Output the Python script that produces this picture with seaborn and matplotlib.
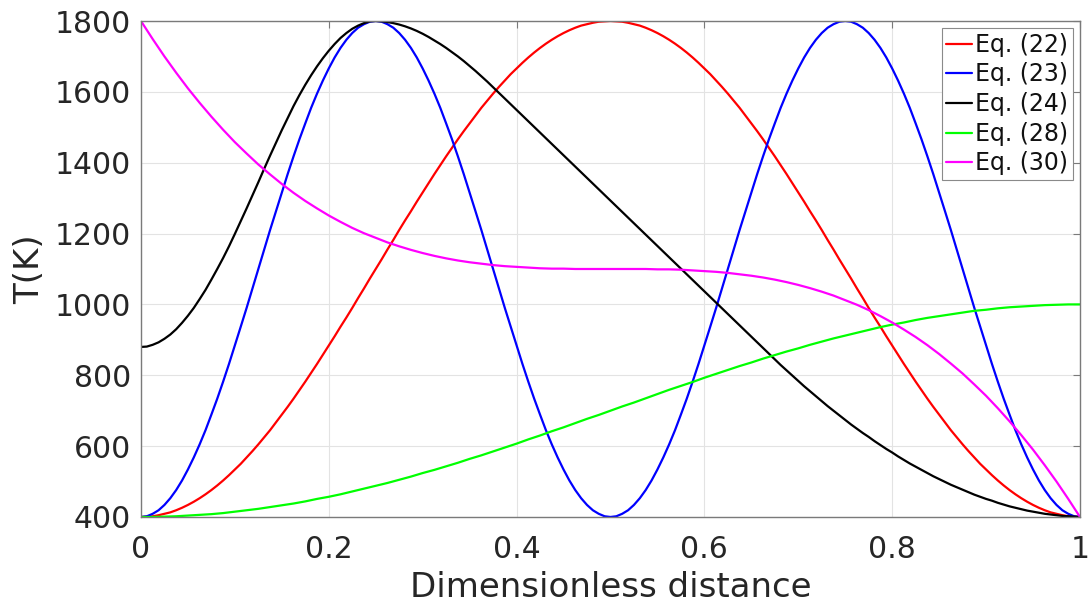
import numpy as np
import pandas as pd
import matplotlib
matplotlib.use("Agg")
import matplotlib.pyplot as plt
import seaborn as sns

# Dimensionless distance samples: a fine grid for the strongly curved profiles,
# a coarser one for the smooth profiles
distance_fine = np.linspace(0.0, 1.0, 161)
distance = np.linspace(0.0, 1.0, 81)

# Temperature profiles T(K)
eq22_T = [400, 401, 402, 405, 409, 413, 419, 426, 434, 443, 453, 464, 476, 489, 503, 518, 534, 550, 568, 586,
          605, 625, 645, 667, 689, 711, 734, 758, 782, 807, 832, 858, 884, 910, 937, 963, 990, 1018, 1045, 1073,
          1100,
          1127, 1155, 1182, 1210, 1237, 1263, 1290, 1316, 1342, 1368, 1393, 1418, 1442, 1466, 1489, 1511, 1533,
          1555, 1575, 1595, 1614, 1632, 1650, 1666, 1682, 1697, 1711, 1724, 1736, 1747, 1757, 1766, 1774, 1781,
          1787, 1791, 1795, 1798, 1799, 1800,
          1799, 1798, 1795, 1791, 1787, 1781, 1774, 1766, 1757, 1747, 1736, 1724, 1711, 1697, 1682, 1666, 1650,
          1632, 1614, 1595, 1575, 1555, 1533, 1511, 1489, 1466, 1442, 1418, 1393, 1368, 1342, 1316, 1290, 1263,
          1237, 1210, 1182, 1155, 1127, 1100,
          1073, 1045, 1018, 990, 963, 937, 910, 884, 858, 832, 807, 782, 758, 734, 711, 689, 667, 645, 625, 605,
          586, 568, 550, 534, 518, 503, 489, 476, 464, 453, 443, 434, 426, 419, 413, 409, 405, 402, 401, 400]

eq23_T = [400, 402, 409, 419, 434, 453, 476, 503, 534, 568, 605, 645, 689, 734, 782, 832, 884, 937, 990, 1045,
          1100, 1155, 1210, 1263, 1316, 1368, 1418, 1466, 1511, 1555, 1595, 1632, 1666, 1697, 1724, 1747, 1766,
          1781, 1791, 1798, 1800,
          1798, 1791, 1781, 1766, 1747, 1724, 1697, 1666, 1632, 1595, 1555, 1511, 1466, 1418, 1368, 1316, 1263,
          1210, 1155, 1100, 1045, 990, 937, 884, 832, 782, 734, 689, 645, 605, 568, 534, 503, 476, 453, 434,
          419, 409, 402, 400,
          402, 409, 419, 434, 453, 476, 503, 534, 568, 605, 645, 689, 734, 782, 832, 884, 937, 990, 1045,
          1100, 1155, 1210, 1263, 1316, 1368, 1418, 1466, 1511, 1555, 1595, 1632, 1666, 1697, 1724, 1747, 1766,
          1781, 1791, 1798, 1800,
          1798, 1791, 1781, 1766, 1747, 1724, 1697, 1666, 1632, 1595, 1555, 1511, 1466, 1418, 1368, 1316, 1263,
          1210, 1155, 1100, 1045, 990, 937, 884, 832, 782, 734, 689, 645, 605, 568, 534, 503, 476, 453, 434,
          419, 409, 402, 400]

eq24_T = [880, 881, 886, 893, 903, 915, 930, 948, 968, 990, 1015, 1041, 1070, 1100, 1131, 1164, 1199, 1235,
          1271, 1308, 1345, 1383, 1420, 1456, 1492, 1526, 1560, 1591, 1620, 1647, 1672, 1695, 1716, 1735, 1752,
          1766, 1778, 1787, 1794, 1799, 1800,
          1799, 1797, 1794, 1790, 1785, 1779, 1772, 1764, 1755, 1745, 1735, 1724, 1712, 1700, 1687, 1673, 1659,
          1644, 1629, 1613,
          1597, 1581, 1565, 1549, 1533, 1517, 1501, 1485, 1469, 1453, 1437, 1421, 1405, 1389, 1373, 1357, 1341,
          1325, 1309, 1293, 1277, 1261, 1245, 1229, 1213, 1197, 1181, 1165, 1149, 1133, 1117, 1101, 1085, 1069,
          1053, 1037, 1021, 1005, 989, 973, 957, 941, 925, 909, 893, 877, 861,
          845, 829, 814, 799, 784, 769, 755, 741, 727, 713, 700, 687, 674, 661, 649, 637, 626, 614, 603, 592,
          582, 571, 561, 551, 542, 533, 524, 515, 507, 499, 491, 484, 477, 470, 463, 457, 451, 446, 440, 435,
          430, 426, 422, 418, 415, 412, 409, 407, 405, 403, 402, 401, 400]

eq28_T = [400, 400, 401, 402, 404, 406, 408, 411, 415, 419, 423, 428, 433, 438, 444, 451, 457, 464, 472, 480,
          488, 496, 505, 514, 524, 533, 543, 553, 564, 574, 585, 596, 607, 619, 630, 642, 653, 665, 677, 688,
          700,
          712, 723, 735, 747, 759, 770, 781, 793, 804, 815, 826, 836, 847, 857, 867, 876, 886, 895, 904, 912,
          920, 928, 936, 943, 949, 956, 962, 967, 972, 977, 982, 985, 989, 992, 994, 996, 998, 999, 1000, 1000]

eq30_T = [1800, 1749, 1700, 1654, 1610, 1569, 1530, 1493, 1458, 1426, 1395, 1367, 1340, 1315, 1292, 1271,
          1251, 1233, 1216, 1201, 1188, 1175, 1164, 1154, 1145, 1137, 1130, 1124, 1119, 1115, 1111, 1108, 1106,
          1104, 1102, 1101, 1101, 1100, 1100, 1100, 1100,
          1100, 1100, 1100, 1099, 1099, 1098, 1096, 1094, 1092, 1089, 1085, 1081, 1076, 1070, 1063, 1055, 1046,
          1036, 1025, 1012, 999, 984, 967, 949, 929, 908, 885, 860, 833, 805, 774, 742, 707, 670, 631, 590, 546,
          500, 451, 400]

labels = ["Eq. (22)", "Eq. (23)", "Eq. (24)", "Eq. (28)", "Eq. (30)"]
colors = ["#ff0000", "#0000ff", "#000000", "#00ff00", "#ff00ff"]
series = [(distance_fine, eq22_T), (distance_fine, eq23_T), (distance_fine, eq24_T),
          (distance, eq28_T), (distance, eq30_T)]

x_ticks = [0, 0.2, 0.4, 0.6, 0.8, 1]
x_tick_labels = ["0", "0.2", "0.4", "0.6", "0.8", "1"]
y_ticks = [400, 600, 800, 1000, 1200, 1400, 1600, 1800]

frames = [pd.DataFrame({"x": xs, "T": vals, "eq": lab}) for lab, (xs, vals) in zip(labels, series)]
df = pd.concat(frames, ignore_index=True)

sns.set_theme(style="white")
plt.rcParams["font.family"] = ["DejaVu Sans"]

fig = plt.figure(figsize=(10.91, 6.07), dpi=100)
ax = fig.add_axes([0.1292, 0.1483, 0.9899 - 0.1292, 0.9654 - 0.1483])

sns.lineplot(data=df, x="x", y="T", hue="eq", hue_order=labels,
             palette=dict(zip(labels, colors)), linewidth=1.6, ax=ax, sort=False,
             estimator=None, legend=False)
for ln in ax.get_lines():
    ln.set_solid_joinstyle("round")

ax.set_xlim(0, 1)
ax.set_ylim(400, 1800)
ax.set_xticks(x_ticks)
ax.set_xticklabels(x_tick_labels)
ax.set_yticks(y_ticks)
ax.grid(True, color="#e3e3e3", linewidth=0.8)
ax.set_axisbelow(True)

for sp in ax.spines.values():
    sp.set_visible(True)
    sp.set_color("#7a7a7a")
    sp.set_linewidth(1.0)

ax.tick_params(axis="both", which="both", direction="in", top=True, right=True,
               length=5, width=0.8, color="#7a7a7a", labelsize=21.5,
               labelcolor="#262626")
ax.tick_params(axis="x", pad=13)
ax.tick_params(axis="y", pad=7)

ax.set_xlabel("Dimensionless distance", fontsize=24.5, color="#262626", labelpad=5)
ax.set_ylabel("T(K)", fontsize=24.5, color="#262626", labelpad=6)

handles = [plt.Line2D([], [], color=c, linewidth=1.6) for c in colors]
leg = ax.legend(handles, labels, loc="upper right", fontsize=17, frameon=True,
                fancybox=False, edgecolor="#8a8a8a", framealpha=1.0,
                handlelength=1.1, handletextpad=0.12, labelspacing=0.24,
                borderpad=0.2, borderaxespad=0.3)
leg.get_frame().set_linewidth(0.8)
for t in leg.get_texts():
    t.set_color("#111111")

fig.savefig("out.png", dpi=100, facecolor="white")
